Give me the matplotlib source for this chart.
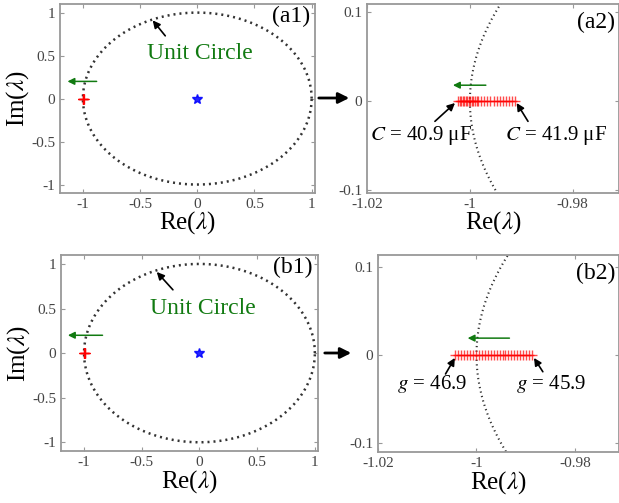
import numpy as np
import matplotlib
matplotlib.use("Agg")
import matplotlib.pyplot as plt

plt.rcParams['font.family'] = ['Liberation Serif', 'DejaVu Serif']
plt.rcParams['mathtext.fontset'] = 'stix'
plt.rcParams['axes.unicode_minus'] = False

a2_re = [-1.0023, -1.0020, -1.0017, -1.0014, -1.0011, -1.0008, -1.0005, -1.0002,
         -0.9999, -0.9996, -0.9993, -0.9990, -0.9987, -0.9984, -0.9978, -0.9972,
         -0.9966, -0.9960, -0.9954, -0.9948, -0.9942, -0.9936, -0.9930, -0.9924,
         -0.9918, -0.9912]
b2_re = [-1.0043, -1.0037, -1.0031, -1.0025, -1.0019, -1.0013, -1.0007, -1.0001,
         -0.9995, -0.9989, -0.9983, -0.9977, -0.9971, -0.9965, -0.9959, -0.9953,
         -0.9947, -0.9941, -0.9935, -0.9929, -0.9923, -0.9917, -0.9911, -0.9905,
         -0.9899, -0.9893, -0.9887]
origin_re = [0.0]

full_ticks = [-1, -0.5, 0, 0.5, 1]
full_labels = ['-1', '-0.5', '0', '0.5', '1']
zoom_xticks = [-1.02, -1.0, -0.98]
zoom_xlabels = ['-1.02', '-1', '-0.98']
zoom_yticks = [-0.1, 0, 0.1]
zoom_ylabels = ['-0.1', '0', '0.1']

theta = np.linspace(0, 2 * np.pi, 2000)
cx, cy = np.cos(theta), np.sin(theta)

fig = plt.figure(figsize=(6.19, 5.03), dpi=100)
ax_a1 = fig.add_axes([0.097, 0.616, 0.412, 0.376])
ax_a2 = fig.add_axes([0.593, 0.616, 0.407, 0.376])
ax_b1 = fig.add_axes([0.0985, 0.103, 0.415, 0.390])
ax_b2 = fig.add_axes([0.611, 0.101, 0.389, 0.392])

green = '#117a11'
tick_col = '#444444'


def style(ax):
    for s in ax.spines.values():
        s.set_color('#999999')
        s.set_linewidth(1.3)
    ax.tick_params(direction='in', length=3, color='#999999', labelsize=11,
                   labelcolor=tick_col, top=True, right=True, width=0.8)
    ax.set_xlabel(r'Re($\lambda$)', fontsize=18, labelpad=-1)


def arrow(ax, head, tail, color='k', lw=1.3, ms=12):
    ax.annotate('', xy=head, xytext=tail,
                arrowprops=dict(arrowstyle='-|>', color=color, lw=lw,
                                mutation_scale=ms, shrinkA=0, shrinkB=0))


# full circle panels
for ax, pts, lab, txt, tarr, garr in [
        (ax_a1, a2_re, '(a1)', (0.02, 0.53), ((-0.39, 0.91), (-0.28, 0.73)),
         ((-1.135, 0.2), (-0.88, 0.2))),
        (ax_b1, b2_re, '(b1)', (0.03, 0.50), ((-0.37, 0.91), (-0.23, 0.71)),
         ((-1.14, 0.2), (-0.84, 0.2)))]:
    ax.plot(cx, cy, color='#333333', lw=1.8, linestyle=(0, (0.8, 1.6)))
    ax.plot(pts, np.zeros(len(pts)), '+', color='red', ms=7, mew=0.8, alpha=0.4)
    ax.plot(origin_re, [0], '*', color='blue', ms=7, alpha=0.85)
    ax.set_xlim(-1.2, 1.03)
    ax.set_ylim(-1.1, 1.1)
    ax.set_xticks(full_ticks)
    ax.set_xticklabels(full_labels)
    ax.set_yticks(full_ticks)
    ax.set_yticklabels(full_labels)
    style(ax)
    ax.set_ylabel(r'Im($\lambda$)', fontsize=18, labelpad=0)
    ax.text(0.98, 0.99, lab, transform=ax.transAxes, ha='right', va='top', fontsize=17)
    ax.text(txt[0], txt[1], 'Unit Circle', color=green, fontsize=17, ha='center', va='center')
    arrow(ax, tarr[0], tarr[1], ms=11, lw=1.2)
    arrow(ax, garr[0], garr[1], color=green, ms=10, lw=1.1)

ax_b1.set_xlim(-1.2, 1.026)

# zoomed panels
for ax, pts, lab, ylim, xlim in [
        (ax_a2, a2_re, '(a2)', (-0.103, 0.109), (-1.02, -0.971)),
        (ax_b2, b2_re, '(b2)', (-0.11, 0.113), (-1.02, -0.971))]:
    ax.plot(cx, cy, color='#333333', lw=1.5, linestyle=(0, (0.6, 1.6)))
    ax.plot(pts, np.zeros(len(pts)), '+', color='red', ms=7.5, mew=1, alpha=0.7)
    ax.set_xlim(*xlim)
    ax.set_ylim(*ylim)
    ax.set_xticks(zoom_xticks)
    ax.set_xticklabels(zoom_xlabels)
    ax.set_yticks(zoom_yticks)
    ax.set_yticklabels(zoom_ylabels)
    style(ax)
    ax.text(0.985, 0.96, lab, transform=ax.transAxes, ha='right', va='top', fontsize=17)

# a2 annotations
arrow(ax_a2, (-1.0033, 0.018), (-0.9969, 0.018), color=green, ms=10, lw=1.1)
ax_a2.text(-1.0095, -0.038, r'$C$ = 40.9 μF', fontsize=15, ha='center', va='center')
ax_a2.text(-0.9833, -0.038, r'$C$ = 41.9 μF', fontsize=15, ha='center', va='center')
arrow(ax_a2, (-1.0029, -0.002), (-1.0068, -0.0225), ms=11, lw=1.2)
arrow(ax_a2, (-0.9909, -0.002), (-0.9887, -0.0225), ms=11, lw=1.2)

# b2 annotations
arrow(ax_b2, (-1.0018, 0.019), (-0.9933, 0.019), color=green, ms=10, lw=1.1)
ax_b2.text(-1.0091, -0.033, r'$g$ = 46.9', fontsize=15, ha='center', va='center')
ax_b2.text(-0.9848, -0.033, r'$g$ = 45.9', fontsize=15, ha='center', va='center')
arrow(ax_b2, (-1.0044, -0.0034), (-1.0063, -0.0215), ms=11, lw=1.2)
arrow(ax_b2, (-0.9883, -0.0034), (-0.9865, -0.019), ms=11, lw=1.2)

# arrows between panels (figure pixels)
for tail, head in [((316, 503 - 98), (352, 503 - 98)), ((322, 503 - 353), (354, 503 - 353))]:
    fig.add_artist(matplotlib.patches.FancyArrowPatch(
        tail, head, transform=None, arrowstyle='-|>', mutation_scale=16,
        color='k', lw=2))

fig.savefig('out.png', dpi=100)
